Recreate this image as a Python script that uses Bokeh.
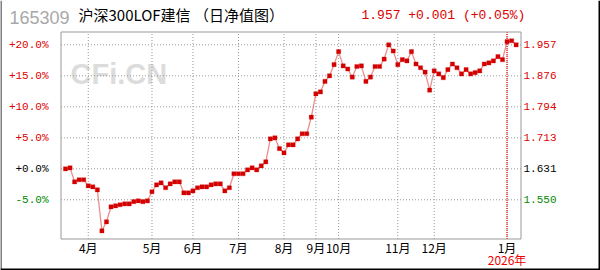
from bokeh.plotting import figure
from bokeh.models import Range1d
from bokeh.core.properties import value
from bokeh.embed import file_html
from bokeh.resources import INLINE

# ---------------- data ----------------
code = "165309"
fund_title = "沪深300LOF建信 （日净值图）"
latest_text = "1.957 +0.001 (+0.05%)"
year_label = "2026年"
watermark = "CFi.CN"

pct_change = [
    0.0, 0.16, -2.1, -1.77, -1.77, -2.74, -2.9, -3.39, -10.0, -8.55,
    -6.13, -5.97, -5.8, -5.65, -5.65, -5.3, -5.16, -5.3, -5.16, -3.7,
    -2.58, -2.26, -3.06, -2.42, -2.1, -2.1, -3.87, -3.87, -3.55, -3.06,
    -2.9, -2.9, -2.58, -2.42, -2.42, -3.55, -3.06, -0.8, -0.8, -0.8,
    -0.16, 0.16, -0.16, 0.48, 1.13, 4.84, 5.0, 3.27, 2.58, 3.87,
    3.87, 4.84, 5.65, 5.65, 8.32, 12.1, 12.4, 14.1, 15.0, 16.8,
    18.9, 16.6, 16.1, 14.8, 16.5, 16.6, 14.1, 14.8, 16.5, 16.5,
    17.7, 20.0, 19.0, 16.8, 17.6, 17.4, 18.9, 16.9, 16.3, 15.6,
    12.7, 15.8, 15.3, 14.7, 16.0, 16.9, 16.3, 15.3, 16.0, 15.3,
    15.5, 15.8, 16.9, 17.1, 17.4, 18.1, 17.6, 20.5, 20.65, 20.0,
]
point_index = list(range(len(pct_change)))

month_index = [5, 19, 28, 38, 48, 55, 60, 73, 81, 97]
month_labels = ["4月", "5月", "6月", "7月", "8月", "9月", "10月", "11月", "12月", "1月"]
year_start_index = 97

pct_ticks = [20, 15, 10, 5, 0, -5]
left_labels = ["+20.0%", "+15.0%", "+10.0%", "+5.0%", "+0.0%", "-5.0%"]
right_labels = ["1.957", "1.876", "1.794", "1.713", "1.631", "1.550"]

# ---------------- layout helpers (page pixels -> data) ----------------
X0, DX = 65.0, 4.552
Y0, DY = 168.3, 6.2


def px_x(px):
    return (px - X0) / DX


def px_y(py):
    return (Y0 - py) / DY


def tick_color(v):
    if v > 0:
        return "#dd0000"
    if v < 0:
        return "#008800"
    return "#000000"


tick_colors = [tick_color(v) for v in pct_ticks]

PL, PR, PT, PB = px_x(60.5), px_x(520.5), px_y(31.5), px_y(238.5)

p = figure(
    width=600, height=270, title=None,
    x_range=Range1d(px_x(0), px_x(600)),
    y_range=Range1d(px_y(270), px_y(0)),
    output_backend="svg", toolbar_location=None,
    min_border=0,
)
p.axis.visible = False
p.grid.visible = False
p.outline_line_color = None
p.background_fill_color = "white"
p.border_fill_color = "white"

# outer border (left, right, bottom)
p.segment(x0=[px_x(0.5)], x1=[px_x(0.5)], y0=[px_y(0)], y1=[px_y(269)],
          line_color="#000000", line_width=1)
p.segment(x0=[px_x(599)], x1=[px_x(599)], y0=[px_y(0)], y1=[px_y(270)],
          line_color="#000000", line_width=2)
p.segment(x0=[px_x(0)], x1=[px_x(600)], y0=[px_y(269)], y1=[px_y(269)],
          line_color="#000000", line_width=2)

# watermark
p.text(x=[px_x(70)], y=[px_y(73.5)], text=[watermark], text_font=value("Liberation Sans"),
       text_font_style="bold", text_font_size="29px", text_color="#dcdcdc",
       text_baseline="alphabetic")

# grid lines
p.segment(x0=[PL] * len(pct_ticks), x1=[PR] * len(pct_ticks), y0=pct_ticks, y1=pct_ticks,
          line_color="#999999", line_dash="1 2", line_width=1)
p.segment(x0=month_index, x1=month_index, y0=[PB] * len(month_index), y1=[PT] * len(month_index),
          line_color="#999999", line_dash="1 2", line_width=1)
# year start line
p.segment(x0=[year_start_index], x1=[year_start_index], y0=[PB], y1=[PT],
          line_color="#ee0000", line_dash="1 1", line_width=1.2)

# plot-area frame
p.quad(left=[PL], right=[PR], top=[PT], bottom=[PB], fill_color=None,
       line_color="#999999", line_width=1)

# series
p.line(point_index, pct_change, line_color="#dd4444", line_alpha=0.6, line_width=1.3)
p.scatter(point_index, pct_change, size=4.2, marker="square", fill_color="#d40000",
          line_color="#d40000", line_width=0.3)

# tick labels, left and right
p.text(x=[px_x(48)] * len(pct_ticks), y=pct_ticks, text=left_labels, text_color=tick_colors,
       text_align="right", text_baseline="middle", text_font=value("Liberation Mono"),
       text_font_size="11px")
p.text(x=[px_x(523)] * len(pct_ticks), y=pct_ticks, text=right_labels, text_color=tick_colors,
       text_align="left", text_baseline="middle", text_font=value("Liberation Mono"),
       text_font_size="11px")

# month labels
p.text(x=month_index, y=[px_y(247)] * len(month_index), text=month_labels,
       text_align="center", text_baseline="middle", text_font=value("Noto Sans CJK SC"),
       text_font_size="12px", text_color="#000000")

# header
p.text(x=[px_x(9)], y=[px_y(16.5)], text=[code], text_font=value("Liberation Sans"),
       text_font_size="18px", text_color="#a8a8a8", text_baseline="middle")
p.text(x=[px_x(78)], y=[px_y(14)], text=[fund_title], text_font=value("Noto Sans CJK SC"),
       text_font_size="15px", text_color="#000000", text_baseline="middle")
p.text(x=[px_x(361)], y=[px_y(14.5)], text=[latest_text], text_font=value("Liberation Mono"),
       text_font_size="13px", text_color="#dd0000", text_baseline="middle")

# year label under 1月
p.text(x=[year_start_index], y=[px_y(259)], text=[year_label], text_font=value("Noto Sans CJK SC"),
       text_font_size="12px", text_color="#ee0000", text_align="center",
       text_baseline="middle")

open("out.html", "w").write(file_html(p, INLINE))
